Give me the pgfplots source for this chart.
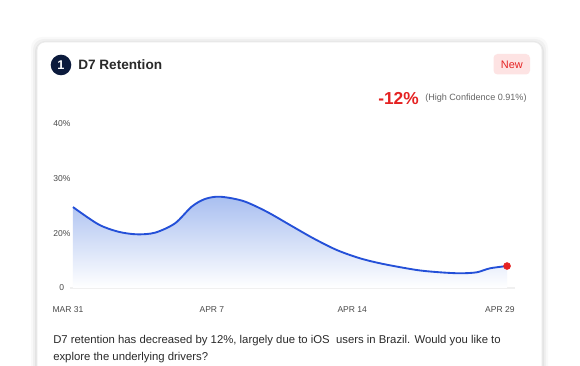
\documentclass[border=0pt]{standalone}
\usepackage{pgfplots}
\pgfplotsset{compat=1.18}
\usepackage{fontspec}
\setmainfont{Liberation Sans}
\definecolor{linec}{HTML}{2450D8}
\definecolor{fillc}{HTML}{A9BFF0}
\definecolor{navy}{HTML}{0B1A3C}
\definecolor{redc}{HTML}{E52222}
\definecolor{pinkbg}{HTML}{FDE3E3}
\definecolor{txt}{HTML}{2A2A2A}
\definecolor{ticktxt}{HTML}{4A4A4A}
\pgfplotstableread{
x y
0.000 24.8
0.175 21.65
0.313 20.30
0.440 19.82
0.567 20.12
0.705 21.83
0.820 24.87
0.912 26.28
1.016 26.70
1.177 25.91
1.339 23.96
1.500 21.52
1.661 19.09
1.823 16.95
1.984 15.43
2.145 14.39
2.376 13.29
2.537 12.87
2.675 12.69
2.790 12.87
2.882 13.60
3.000 14.02
}\datatable
\begin{document}
\begin{tikzpicture}[x=0.75pt,y=0.75pt]
\path[use as bounding box] (0,0) rectangle (580,366);
\begin{scope}[shift={(0,366)},y=-0.75pt]
% shadow
\foreach \o/\op in {6/0.025,4/0.035,2/0.05}{
  \fill[black,opacity=\op,rounded corners=8] (37-\o,42-\o+1) rectangle (542+\o,380);
}
\fill[white,draw=black!8,line width=0.6pt,rounded corners=6] (37,42) rectangle (542,380);
% title
\fill[navy] (61,65) circle (10.3);
\node[text=white,font=\fontsize{9.5}{10}\selectfont\bfseries] at (61,65) {1};
\node[anchor=west,inner sep=0,text=txt,font=\fontsize{10.2}{12}\selectfont\bfseries] at (78,65) {D7 Retention};
\fill[pinkbg,rounded corners=3] (493.5,54) rectangle (530,74.5);
\node[text=redc,font=\fontsize{8.2}{9}\selectfont] at (511.8,64.5) {New};
\node[anchor=east,inner sep=0,text=redc,font=\fontsize{13}{14}\selectfont\bfseries] at (419,98.5) {-12\%};
\node[anchor=west,inner sep=0,text=black!60,font=\fontsize{6.8}{8}\selectfont] at (425,98.5) {(High Confidence 0.91\%)};
\node[anchor=west,inner sep=0,text=txt,font=\fontsize{8.5}{10}\selectfont] at (53,341) {D7 retention has decreased by 12\%, largely due to iOS\ \ users in Brazil. Would you like to};
\node[anchor=west,inner sep=0,text=txt,font=\fontsize{8.5}{10}\selectfont] at (53,358) {explore the underlying drivers?};
\end{scope}
% axis
\begin{axis}[
  at={(50.4pt,58.5pt)}, anchor=south west,
  scale only axis, width=335.85pt, height=123pt,
  xmin=-0.04, xmax=3.055, ymin=10, ymax=40,
  axis line style={draw=none},
  xtick={-0.035,0.96,1.93,2.95},
  xticklabels={MAR 31,APR 7,APR 14,APR 29},
  ytick={10,20,30,40},
  yticklabels={0,20\%,30\%,40\%},
  major tick length=0pt,
  xticklabel style={anchor=center,yshift=-16.5pt,text=ticktxt,font=\fontsize{6.4}{7}\selectfont},
  yticklabel style={anchor=center,xshift=-4pt,text=ticktxt,font=\fontsize{6.4}{7}\selectfont},
  /pgf/number format/assume math mode=true,
  clip=false,
]
\draw[black!6,line width=0.8pt] (axis cs:-0.021,10) -- (axis cs:3.055,10);
\addplot[draw=none, top color=fillc, bottom color=white, smooth] table {\datatable} \closedcycle;
\addplot[linec, line width=1.4pt, smooth] table {\datatable};
\addplot[only marks, mark=*, mark size=2.6pt, color=redc] coordinates {(3.000,14.02)};
\end{axis}
\end{tikzpicture}
\end{document}
